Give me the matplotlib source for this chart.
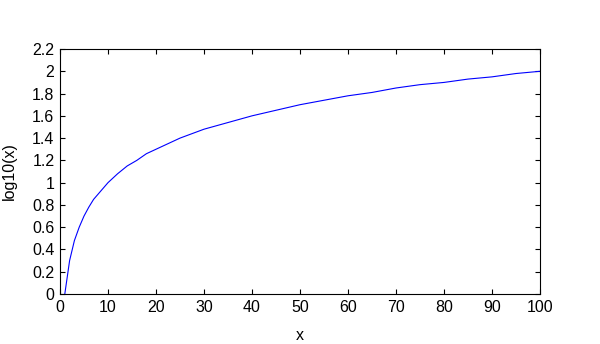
import matplotlib
matplotlib.use('Agg')
import matplotlib.pyplot as plt

# values
x_vals = [1, 2, 3, 4, 5, 6, 7, 8, 9, 10, 12, 14, 16, 18, 20, 25, 30, 35, 40,
          45, 50, 55, 60, 65, 70, 75, 80, 85, 90, 95, 100]
y_vals = [0.00, 0.30, 0.48, 0.60, 0.70, 0.78, 0.85, 0.90, 0.95, 1.00, 1.08,
          1.15, 1.20, 1.26, 1.30, 1.40, 1.48, 1.54, 1.60, 1.65, 1.70, 1.74,
          1.78, 1.81, 1.85, 1.88, 1.90, 1.93, 1.95, 1.98, 2.00]

x_ticks = list(range(0, 101, 10))
y_ticks = [0, 0.2, 0.4, 0.6, 0.8, 1, 1.2, 1.4, 1.6, 1.8, 2, 2.2]
y_tick_labels = ['0', '0.2', '0.4', '0.6', '0.8', '1', '1.2', '1.4', '1.6', '1.8', '2', '2.2']

plt.rcParams['font.family'] = ['Liberation Sans', 'DejaVu Sans']
plt.rcParams['font.size'] = 11.5

fig = plt.figure(figsize=(6, 3.44), dpi=100)
ax = fig.add_axes([0.1, 0.1453, 0.8, 0.7122])

ax.plot(x_vals, y_vals, color='blue', linewidth=0.8)

ax.set_xlim(0, 100)
ax.set_ylim(0, 2.2)
ax.set_xticks(x_ticks)
ax.set_yticks(y_ticks)
ax.set_yticklabels(y_tick_labels)
ax.tick_params(direction='in', top=True, right=True, length=3.5, width=0.8, pad=4)
for s in ax.spines.values():
    s.set_linewidth(0.8)

ax.set_xlabel('x', labelpad=10)
ax.set_ylabel('log10(x)', labelpad=11)

fig.savefig('out.png', dpi=100)
